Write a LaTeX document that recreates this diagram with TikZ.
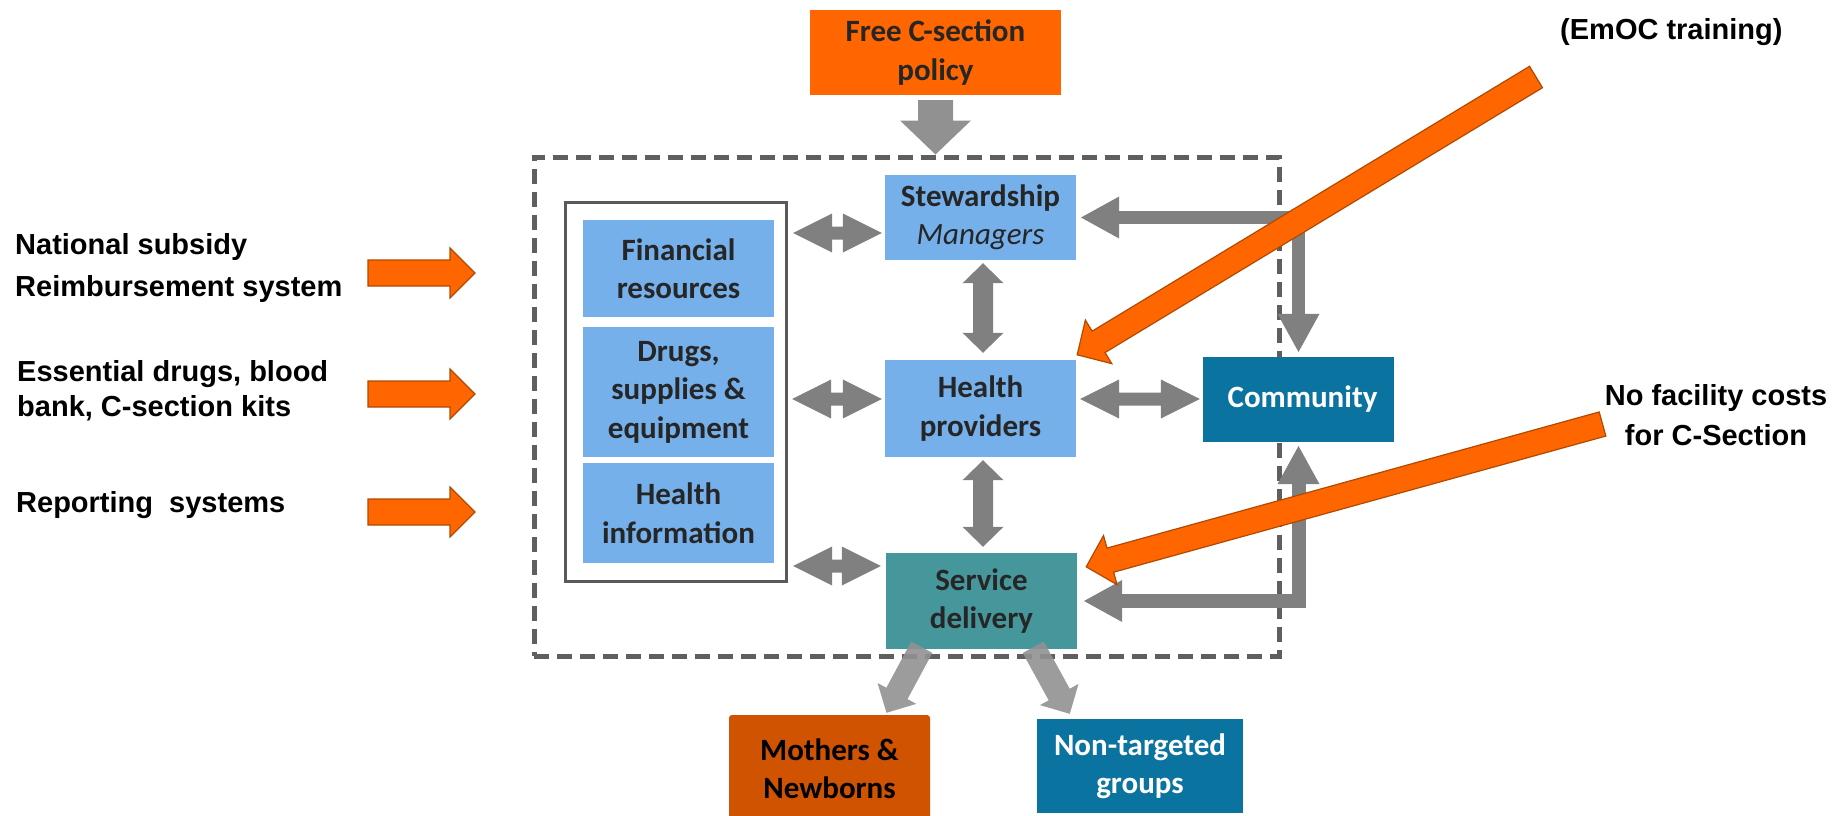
\documentclass[tikz,border=0pt]{standalone}
\usepackage{fontspec}
\setmainfont{Carlito}
\newfontfamily\arialfont{Liberation Sans}
\usetikzlibrary{calc,arrows.meta}
\definecolor{orng}{HTML}{FF6600}
\definecolor{orngdk}{HTML}{B04A00}
\definecolor{lblue}{HTML}{75B0EB}
\definecolor{tealc}{HTML}{46979C}
\definecolor{dblue}{HTML}{0B73A0}
\definecolor{mothc}{HTML}{CF5300}
\definecolor{garr}{HTML}{808080}
\definecolor{garrlt}{HTML}{919191}
\definecolor{txtd}{HTML}{262626}
\definecolor{dashc}{HTML}{5F5F5F}
\definecolor{outc}{HTML}{595959}

% single block arrow: style, tail, tip, shaft half-width, head half-width, head length
\newcommand{\blockarr}[6]{%
  \coordinate (tmpH) at ($(#3)!#6!(#2)$);
  \path[#1] ($(#2)!#4!90:(#3)$) -- ($(tmpH)!#4!90:(#3)$) -- ($(tmpH)!#5!90:(#3)$) -- (#3)
    -- ($(tmpH)!#5!-90:(#3)$) -- ($(tmpH)!#4!-90:(#3)$) -- ($(#2)!#4!-90:(#3)$) -- cycle;
}
% double block arrow
\newcommand{\dblockarr}[6]{%
  \coordinate (tmpHa) at ($(#2)!#6!(#3)$);
  \coordinate (tmpHb) at ($(#3)!#6!(#2)$);
  \path[#1] (#2) -- ($(tmpHa)!#5!90:(#3)$) -- ($(tmpHa)!#4!90:(#3)$) -- ($(tmpHb)!#4!90:(#3)$)
    -- ($(tmpHb)!#5!90:(#3)$) -- (#3) -- ($(tmpHb)!#5!-90:(#3)$) -- ($(tmpHb)!#4!-90:(#3)$)
    -- ($(tmpHa)!#4!-90:(#3)$) -- ($(tmpHa)!#5!-90:(#3)$) -- cycle;
}

\tikzset{
  box/.style={rectangle, inner sep=0pt, align=center, text=txtd,
    font=\bfseries\fontsize{31}{38.5}\selectfont},
  bluebox/.style={box, fill=lblue, minimum width=191pt},
  lbl/.style={inner sep=0pt, align=left, text=black},
  orarrow/.style={fill=orng, draw=orngdk, line width=1.2pt, line join=miter},
  grayarrow/.style={fill=garr},
  elbowtip/.tip={Triangle[length=39pt,width=39pt]}
}

\begin{document}
\begin{tikzpicture}[x=1pt,y=-1pt]
\useasboundingbox (0,0) rectangle (1833,815);

% system boundary
\node[draw=dashc, line width=5pt, dash pattern=on 15pt off 8pt, minimum width=745pt, minimum height=499pt, inner sep=0pt] (sysbox) at (906.5,406.5) {};

% policy
\node[box, fill=orng, minimum width=251pt, minimum height=85pt] (policy) at (935.5,52.5) {Free C-section\\policy};

% left group
\node[draw=outc, line width=3pt, fill=white, minimum width=221pt, minimum height=379pt, inner sep=0pt] (outer) at (675.5,391.5) {};
\node[bluebox, minimum height=97pt] (fin) at (678.5,268.5) {Financial\\resources};
\node[bluebox, minimum height=130pt] (drugs) at (678.5,392) {Drugs,\\supplies \&\\equipment};
\node[bluebox, minimum height=100pt] (hinfo) at (678.5,513) {Health\\information};

% centre
\node[bluebox, minimum height=85pt] (stew) at (980.5,217.5) {Stewardship\\{\mdseries\itshape Managers}};
\node[bluebox, minimum height=97pt] (hp) at (980.5,408.5) {Health\\providers};
\node[box, fill=tealc, minimum width=191pt, minimum height=96pt] (sd) at (981.5,601) {Service\\delivery};
\node[box, fill=dblue, text=white, minimum width=191pt, minimum height=85pt] (comm) at (1298.5,399.5) {\hspace*{8pt}Community};

% outcomes
\node[box, fill=mothc, text=black, rounded corners=3pt, minimum width=201pt, minimum height=107pt] (mothers) at (829.5,768.5) {Mothers \&\\Newborns};
\node[box, fill=dblue, text=white, minimum width=206pt, minimum height=94pt] (nontarget) at (1140,766) {Non-targeted\\groups};

% outside labels
\node[lbl, anchor=west, font=\arialfont\bfseries\fontsize{29}{42}\selectfont] (t1) at (15,268) {National subsidy\\Reimbursement system};
\node[lbl, anchor=west, font=\arialfont\bfseries\fontsize{29}{35}\selectfont] (t2) at (17,391) {Essential drugs, blood\\bank, C-section kits};
\node[lbl, anchor=west, font=\arialfont\bfseries\fontsize{29}{35}\selectfont] (t3) at (16,505.5) {Reporting\ \ systems};
\node[lbl, anchor=west, font=\arialfont\bfseries\fontsize{29}{35}\selectfont] (t4) at (1560,32.5) {(EmOC training)};
\node[lbl, align=center, font=\arialfont\bfseries\fontsize{29}{40}\selectfont] (t5) at (1716,415) {No facility costs\\for C-Section};

% policy arrow
\coordinate (pa) at ($(policy.south)+(0,5)$);
\coordinate (pb) at (policy.south |- sysbox.north);
\blockarr{fill=garrlt}{pa}{pb}{17.5pt}{35.5pt}{34pt}

% horizontal double arrows
\coordinate (d1a) at ($(fin.east)+(19,-35.5)$);
\coordinate (d1b) at ($(stew.west)+(-3,15.5)$);
\dblockarr{grayarrow}{d1a}{d1b}{6.5pt}{19.5pt}{39pt}
\coordinate (d2a) at ($(drugs.east)+(18,7)$);
\coordinate (d2b) at ($(hp.west)+(-3,-9.5)$);
\dblockarr{grayarrow}{d2a}{d2b}{6.5pt}{19.5pt}{39pt}
\coordinate (d3a) at ($(hinfo.east)+(19,53)$);
\coordinate (d3b) at ($(sd.west)+(-5,-35)$);
\dblockarr{grayarrow}{d3a}{d3b}{6.5pt}{19.5pt}{39pt}
\coordinate (d4a) at ($(hp.east)+(4,-9.5)$);
\coordinate (d4b) at ($(comm.west)+(-3,-0.5)$);
\dblockarr{grayarrow}{d4a}{d4b}{6.5pt}{19.5pt}{39pt}

% vertical double arrows
\coordinate (v1a) at ($(stew.south)+(2.5,3)$);
\coordinate (v1b) at ($(hp.north)+(2.5,-7)$);
\dblockarr{grayarrow}{v1a}{v1b}{10pt}{20.5pt}{20pt}
\coordinate (v2a) at ($(hp.south)+(2.5,3)$);
\coordinate (v2b) at ($(sd.north)+(1.5,-6)$);
\dblockarr{grayarrow}{v2a}{v2b}{10pt}{20.5pt}{20pt}

% elbow connectors to community
\draw[garr, line width=13pt, elbowtip-elbowtip] ($(stew.east)+(4,0)$) -| ($(comm.north)+(0,-4)$);
\draw[garr, line width=14pt, elbowtip-elbowtip] ($(sd.east)+(6,0)$) -| ($(comm.south)+(0,3)$);

% outcome arrows
\coordinate (b1a) at ($(sd.south west)+(36,-2)$);
\coordinate (b1b) at ($(mothers.north)+(57,-2)$);
\blockarr{fill=garrlt, fill opacity=0.9}{b1a}{b1b}{12pt}{22pt}{22pt}
\coordinate (b2a) at ($(sd.south east)+(-44,-2)$);
\coordinate (b2b) at ($(nontarget.north west)+(33,-5)$);
\blockarr{fill=garrlt, fill opacity=0.9}{b2a}{b2b}{12pt}{22pt}{22pt}

% orange input arrows
\coordinate (la1) at (368,273);
\coordinate (la1t) at (475,273);
\blockarr{orarrow}{la1}{la1t}{13pt}{25pt}{25pt}
\coordinate (la2) at (368,394);
\coordinate (la2t) at (475,394);
\blockarr{orarrow}{la2}{la2t}{13pt}{25pt}{25pt}
\coordinate (la3) at (368,512);
\coordinate (la3t) at (475,512);
\blockarr{orarrow}{la3}{la3t}{13pt}{25pt}{25pt}

\coordinate (e1a) at (1536,77);
\coordinate (e1b) at ($(hp.north east)+(1,-5)$);
\blockarr{orarrow}{e1a}{e1b}{12.5pt}{25.5pt}{25pt}
\coordinate (e2a) at (1602.5,424);
\coordinate (e2b) at ($(sd.north east)+(9,14)$);
\blockarr{orarrow}{e2a}{e2b}{12.5pt}{25.5pt}{25pt}
\end{tikzpicture}
\end{document}
